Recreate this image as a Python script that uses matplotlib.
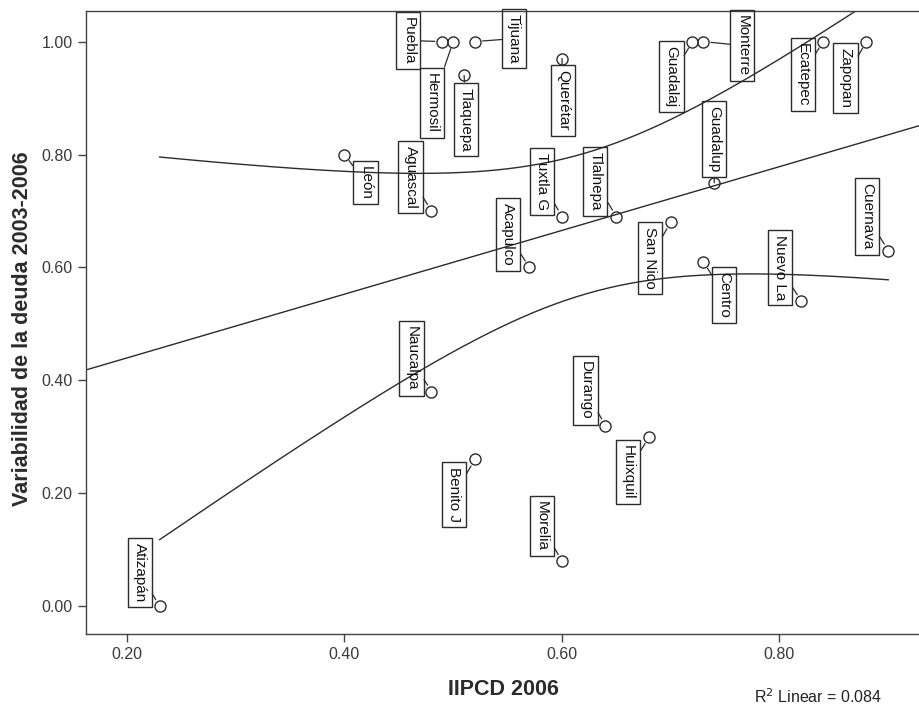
import numpy as np
import matplotlib
matplotlib.use("Agg")
import matplotlib.pyplot as plt

plt.rcParams['font.family'] = ['Liberation Sans', 'DejaVu Sans']

# municipios (etiquetas recortadas como en la salida de SPSS)
names = ['Atizapán', 'Puebla', 'Hermosil', 'Tijuana', 'Tlaquepa', 'Querétar',
         'Guadalaj', 'Monterre', 'Ecatepec', 'Zapopan', 'Guadalup', 'Cuernava',
         'León', 'Aguascal', 'Tuxtla G', 'Tlalnepa', 'Acapulco', 'San Nico',
         'Centro', 'Nuevo La', 'Naucalpa', 'Durango', 'Huixquil', 'Benito J',
         'Morelia']
iipcd = [0.23, 0.49, 0.50, 0.52, 0.51, 0.60, 0.72, 0.73, 0.84, 0.88, 0.74, 0.90,
         0.40, 0.48, 0.60, 0.65, 0.57, 0.70, 0.73, 0.82, 0.48, 0.64, 0.68, 0.52,
         0.60]
variab = [0.00, 1.00, 1.00, 1.00, 0.94, 0.97, 1.00, 1.00, 1.00, 1.00, 0.75, 0.63,
          0.80, 0.70, 0.69, 0.69, 0.60, 0.68, 0.61, 0.54, 0.38, 0.32, 0.30, 0.26,
          0.08]

xticks = [0.20, 0.40, 0.60, 0.80]
yticks = [0.00, 0.20, 0.40, 0.60, 0.80, 1.00]

# where each label box sits relative to its point (pixels, y up)
label_offsets = {
    'Puebla': (-34, 1), 'Hermosil': (-21, -61), 'Tijuana': (39, 3),
    'Tlaquepa': (2, -44), 'Querétar': (1, -42), 'Guadalaj': (-21, -35),
    'Monterre': (39, -4), 'Ecatepec': (-20, -33), 'Zapopan': (-21, -36),
    'Guadalup': (0, 44), 'Cuernava': (-21, 34), 'León': (21, -28),
    'Aguascal': (-21, 34), 'Tuxtla G': (-20, 35), 'Tlalnepa': (-21, 35),
    'Acapulco': (-21, 33), 'San Nico': (-21, -36), 'Centro': (21, -33),
    'Nuevo La': (-21, 34), 'Naucalpa': (-20, 33), 'Durango': (-20, 35),
    'Huixquil': (-21, -35), 'Benito J': (-21, -35), 'Morelia': (-20, 35),
    'Atizapán': (-20, 34),
}

x = np.array(iipcd)
y = np.array(variab)
n = len(x)

# linear fit + 95% CI for the mean
slope, intercept = np.polyfit(x, y, 1)
resid = y - (slope * x + intercept)
r2 = 1 - np.sum(resid ** 2) / np.sum((y - y.mean()) ** 2)
s = np.sqrt(np.sum(resid ** 2) / (n - 2))
sxx = np.sum((x - x.mean()) ** 2)
t95 = 2.069  # t(0.975, df=23)

dark = '#2b2b2b'

fig = plt.figure(figsize=(9.2, 7.08), dpi=100)
ax = fig.add_axes([86 / 920, 74 / 708, 834 / 920, 623.5 / 708])
ax.set_xlim(0.1623, 0.9292)
ax.set_ylim(-0.049, 1.055)

xl = np.linspace(0.1623, 0.9292, 200)
ax.plot(xl, slope * xl + intercept, color=dark, lw=1.0)

xc = np.linspace(x.min(), x.max(), 200)
yc = slope * xc + intercept
half = t95 * s * np.sqrt(1 / n + (xc - x.mean()) ** 2 / sxx)
ax.plot(xc, yc + half, color=dark, lw=1.0)
ax.plot(xc, yc - half, color=dark, lw=1.0)

ax.plot(x, y, 'o', ms=8, mfc='none', mec=dark, mew=1.0)

for name, xi, yi in zip(names, iipcd, variab):
    dx, dy = label_offsets[name]
    ax.annotate(name, xy=(xi, yi), xytext=(dx, dy), textcoords='offset pixels',
                rotation=-90, ha='center', va='center', fontsize=11, color='#111111',
                bbox=dict(boxstyle='square,pad=0.33', fc='none', ec=dark, lw=1.0),
                arrowprops=dict(arrowstyle='-', color=dark, lw=0.9,
                                shrinkA=0, shrinkB=5.5))

ax.set_xticks(xticks)
ax.set_xticklabels([f'{v:.2f}' for v in xticks])
ax.set_yticks(yticks)
ax.set_yticklabels([f'{v:.2f}' for v in yticks])
ax.tick_params(length=6, width=1, color='#444444', labelsize=11.5,
               labelcolor='#3a3a3a', pad=3.5)
for side in ['left', 'bottom', 'top']:
    ax.spines[side].set_color('#444444')
    ax.spines[side].set_linewidth(1.0)
ax.spines['right'].set_visible(False)

ax.set_xlabel('IIPCD 2006', fontsize=15.5, fontweight='bold', color='#2b2b2b')
ax.set_ylabel('Variabilidad de la deuda 2003-2006', fontsize=15.5,
              fontweight='bold', color='#2b2b2b')
ax.xaxis.set_label_coords(0.5, -0.072)
ax.yaxis.set_label_coords(-0.064, 0.49)

fig.text(882 / 920, 1 - 697 / 708, f'R$^2$ Linear = {r2:.3f}', ha='right',
         va='center', fontsize=11.5, color='#222222')

fig.savefig('out.png', dpi=100, facecolor='white')
